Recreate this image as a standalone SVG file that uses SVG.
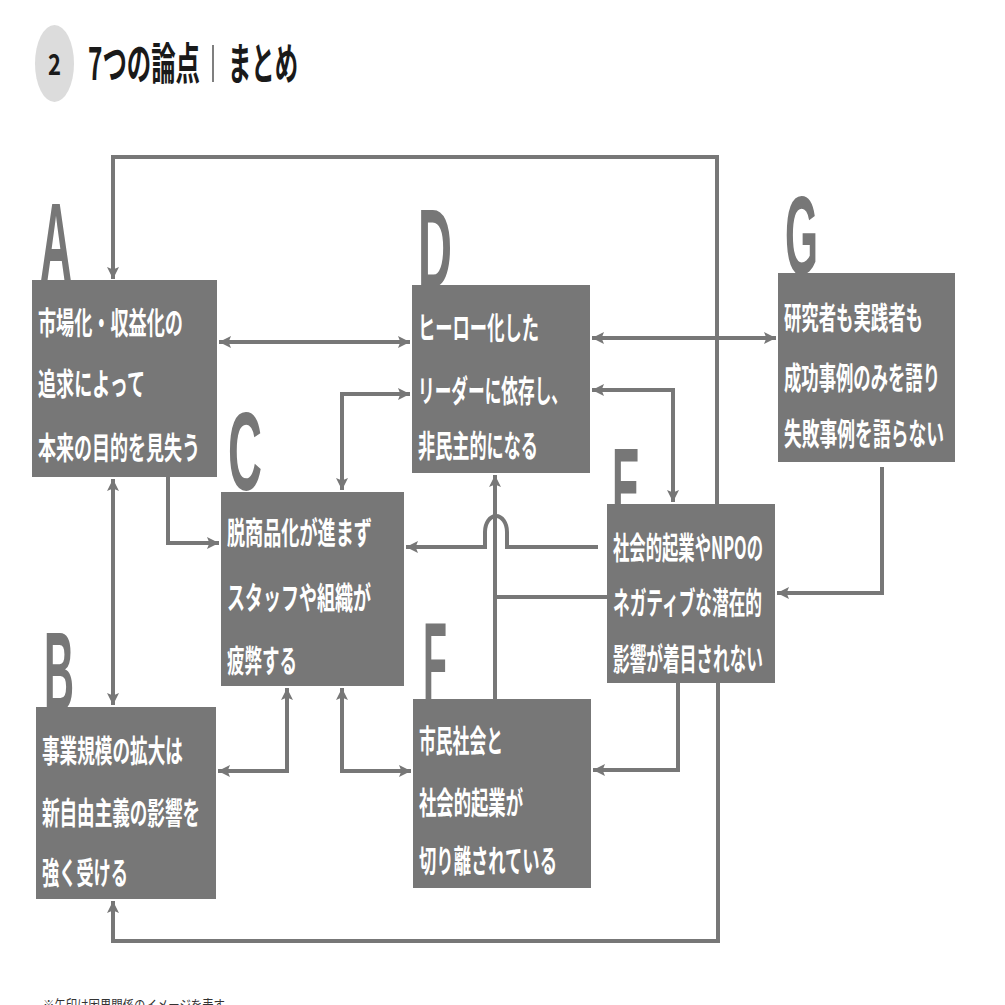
<svg xmlns="http://www.w3.org/2000/svg" width="1005" height="1005" viewBox="0 0 1005 1005">
<style>
.box{fill:#777}
.ltr{fill:#777;font-family:"Liberation Sans",Arial,sans-serif;font-weight:bold;font-size:112px}
.t{fill:#fff;font-family:"Noto Sans CJK JP","Noto Sans",sans-serif;font-weight:bold;font-size:31px}
.c{fill:none;stroke:#777;stroke-width:4}
.ttl{fill:#1a1a1a;font-family:"Noto Sans CJK JP","Noto Sans",sans-serif;font-weight:bold}
</style>
<defs>
<marker id="ah" viewBox="0 0 10 10" refX="10" refY="5" markerWidth="12" markerHeight="15" markerUnits="userSpaceOnUse" orient="auto-start-reverse">
<path d="M0,0 L10,5 L0,10 L2,5 z" fill="#777"/>
</marker>
</defs>
<rect width="1005" height="1005" fill="#fff"/>

<g id="title">
<ellipse cx="54.5" cy="63.5" rx="19.5" ry="38.5" fill="#dcdcdc"/>
<text class="ttl" x="48" y="75" font-size="29" textLength="13" lengthAdjust="spacingAndGlyphs">2</text>
<text class="ttl" x="88" y="80" font-size="44" textLength="112" lengthAdjust="spacingAndGlyphs">7つの論点</text>
<line x1="213" y1="45" x2="213" y2="82" stroke="#555" stroke-width="1.5"/>
<text class="ttl" x="228" y="80" font-size="44" textLength="70" lengthAdjust="spacingAndGlyphs">まとめ</text>
</g>

<g id="connectors">
<path class="c" d="M717,504 V157 H113 V279" marker-end="url(#ah)"/>
<path class="c" d="M219,342 H410" marker-start="url(#ah)" marker-end="url(#ah)"/>
<path class="c" d="M410,394 H342 V490" marker-start="url(#ah)" marker-end="url(#ah)"/>
<path class="c" d="M168,477 V543 H219" marker-end="url(#ah)"/>
<path class="c" d="M113,479 V705" marker-start="url(#ah)" marker-end="url(#ah)"/>
<path class="c" d="M218,771 H287 V688" marker-start="url(#ah)" marker-end="url(#ah)"/>
<path class="c" d="M342,688 V771 H411" marker-start="url(#ah)" marker-end="url(#ah)"/>
<path class="c" d="M598,547 H507 V532 A11,16 0 0 0 485,532 V547 H406" marker-end="url(#ah)"/>
<path class="c" d="M495,699 V475" marker-end="url(#ah)"/>
<path class="c" d="M607,597 H495"/>
<path class="c" d="M592,390 H673 V502" marker-start="url(#ah)" marker-end="url(#ah)"/>
<path class="c" d="M592,338 H776" marker-start="url(#ah)" marker-end="url(#ah)"/>
<path class="c" d="M882,467 V593 H777" marker-end="url(#ah)"/>
<path class="c" d="M678,683 V770 H593" marker-end="url(#ah)"/>
<path class="c" d="M718,683 V941 H113 V901" marker-end="url(#ah)"/>
</g>

<g id="node-A">
<text class="ltr" x="40" y="281" textLength="32" lengthAdjust="spacingAndGlyphs">A</text>
<rect class="box" x="32" y="280" width="185" height="197"/>
<text class="t" x="38" y="334" textLength="145" lengthAdjust="spacingAndGlyphs">市場化・収益化の</text>
<text class="t" x="38" y="395" textLength="107" lengthAdjust="spacingAndGlyphs">追求によって</text>
<text class="t" x="38" y="459" textLength="162" lengthAdjust="spacingAndGlyphs">本来の目的を見失う</text>
</g>

<g id="node-B">
<text class="ltr" x="44" y="710" textLength="30" lengthAdjust="spacingAndGlyphs">B</text>
<rect class="box" x="36" y="707" width="180" height="192"/>
<text class="t" x="42" y="762" textLength="141" lengthAdjust="spacingAndGlyphs">事業規模の拡大は</text>
<text class="t" x="42" y="824" textLength="158" lengthAdjust="spacingAndGlyphs">新自由主義の影響を</text>
<text class="t" x="42" y="884" textLength="86" lengthAdjust="spacingAndGlyphs">強く受ける</text>
</g>

<g id="node-C">
<text class="ltr" x="228" y="490" textLength="34" lengthAdjust="spacingAndGlyphs">C</text>
<rect class="box" x="221" y="492" width="183" height="194"/>
<text class="t" x="227" y="544" textLength="145" lengthAdjust="spacingAndGlyphs">脱商品化が進まず</text>
<text class="t" x="227" y="609" textLength="144" lengthAdjust="spacingAndGlyphs">スタッフや組織が</text>
<text class="t" x="227" y="672" textLength="70" lengthAdjust="spacingAndGlyphs">疲弊する</text>
</g>

<g id="node-D">
<text class="ltr" x="418" y="287" textLength="34" lengthAdjust="spacingAndGlyphs">D</text>
<rect class="box" x="412" y="285" width="178" height="188"/>
<text class="t" x="418" y="339" textLength="121" lengthAdjust="spacingAndGlyphs">ヒーロー化した</text>
<text class="t" x="418" y="402" textLength="150" lengthAdjust="spacingAndGlyphs">リーダーに依存し、</text>
<text class="t" x="418" y="457" textLength="120" lengthAdjust="spacingAndGlyphs">非民主的になる</text>
</g>

<g id="node-E">
<text class="ltr" x="612" y="526" textLength="28" lengthAdjust="spacingAndGlyphs">E</text>
<rect class="box" x="607" y="504" width="168" height="179"/>
<text class="t" x="613" y="559" textLength="150" lengthAdjust="spacingAndGlyphs">社会的起業やNPOの</text>
<text class="t" x="613" y="614" textLength="149" lengthAdjust="spacingAndGlyphs">ネガティブな潜在的</text>
<text class="t" x="613" y="670" textLength="150" lengthAdjust="spacingAndGlyphs">影響が着目されない</text>
</g>

<g id="node-F">
<text class="ltr" x="423" y="700" textLength="24" lengthAdjust="spacingAndGlyphs">F</text>
<rect class="box" x="413" y="699" width="178" height="189"/>
<text class="t" x="419" y="752" textLength="84" lengthAdjust="spacingAndGlyphs">市民社会と</text>
<text class="t" x="419" y="814" textLength="104" lengthAdjust="spacingAndGlyphs">社会的起業が</text>
<text class="t" x="419" y="872" textLength="138" lengthAdjust="spacingAndGlyphs">切り離されている</text>
</g>

<g id="node-G">
<text class="ltr" x="785" y="274" textLength="33" lengthAdjust="spacingAndGlyphs">G</text>
<rect class="box" x="778" y="273" width="177" height="189"/>
<text class="t" x="784" y="329" textLength="139" lengthAdjust="spacingAndGlyphs">研究者も実践者も</text>
<text class="t" x="784" y="389" textLength="156" lengthAdjust="spacingAndGlyphs">成功事例のみを語り</text>
<text class="t" x="784" y="445" textLength="160" lengthAdjust="spacingAndGlyphs">失敗事例を語らない</text>
</g>

<text x="43" y="1010" font-family="'Noto Sans CJK JP','Noto Sans',sans-serif" font-size="14" fill="#333" textLength="182" lengthAdjust="spacingAndGlyphs">※矢印は因果関係のイメージを表す</text>
</svg>
